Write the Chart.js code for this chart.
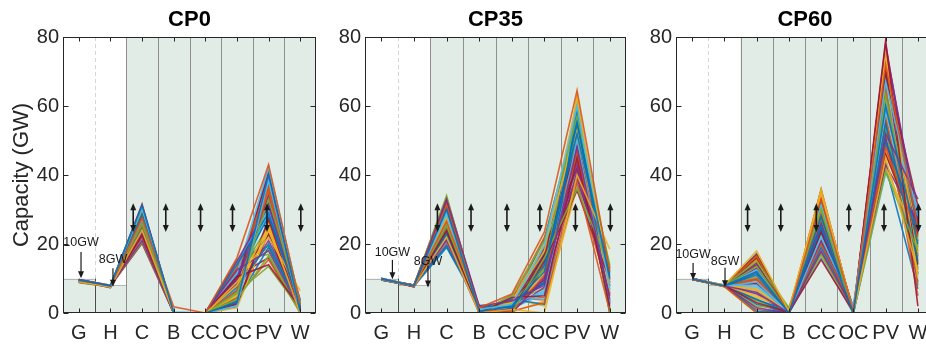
<!DOCTYPE html>
<html><head><meta charset="utf-8">
<script src="https://cdn.jsdelivr.net/npm/chart.js@4.4.0/dist/chart.umd.min.js"></script>
<style>
html,body{margin:0;padding:0;background:#fff;width:926px;height:344px;overflow:hidden;position:relative;}
canvas{position:absolute;top:0;}
</style></head><body>
<canvas id="c1"></canvas><canvas id="c2"></canvas><canvas id="c3"></canvas>
<script>
// ---------------- DATA ----------------
const categories = ['G','H','C','B','CC','OC','PV','W'];
const panelTitles = ['CP0','CP35','CP60'];
const yTickValues = [0,20,40,60,80];
const limitG = 10;   // GW, G region limit
const limitH = 8;    // GW, H region limit
const limitLabels = ['10GW','8GW'];

// CP0 : one value per scenario line, per category
const cp0_G = [9.6,9.5,9.0,9.7,9.4,9.6,9.5,9.6, 9.4,9.5,8.9,9.6,9.5,9.7,9.4,9.5, 9.6,9.3,8.8,9.5,9.6,9.4,9.5,9.7, 9.5,9.4,9.1,9.6,9.5,9.6,9.3,9.5, 9.7,9.5,8.9,9.4,9.6,9.5,9.6,9.4, 9.5,9.6,9.0,9.5,9.4,9.7,9.5,9.6];
const cp0_H = [7.9,7.8,7.6,7.9,7.8,8.0,7.9,7.8, 7.8,7.5,7.7,7.9,7.8,7.9,7.8,7.9, 8.0,7.4,7.6,7.8,7.9,7.8,7.9,8.0, 7.9,7.6,7.7,7.8,7.9,8.0,7.8,7.9, 7.8,7.3,7.6,7.9,7.8,7.9,8.0,7.8, 7.9,7.7,7.7,7.8,7.9,7.8,7.9,8.0];
const cp0_C = [31.2,27.5,24.0,21.0,26.0,30.5,22.5,28.8, 25.5,29.5,23.0,20.5,27.0,31.5,24.5,22.0, 29.0,26.5,25.0,21.5,28.0,30.0,23.5,26.8, 27.8,24.8,22.8,20.2,29.8,28.5,25.8,23.8, 30.8,26.2,24.2,21.8,27.2,29.2,22.2,25.2, 28.2,23.2,26.6,20.8,30.2,27.6,24.6,31.0];
const cp0_B = [0,1.8,0,0,0,0,0,0, 0,0,0,0,0.2,0,0,0, 0,0,0,0,0,0,0,0, 0,0,0.3,0,0,0,0,0, 0,0,0,0,0,0,0,0, 0,0.1,0,0,0,0,0,0];
const cp0_CC = [0,0,0,0,0,0,0,0, 0,0,0,0,0,0,0,0, 0,0,0,0,0,0,0,0, 0,0,0,0,0,0,0,0, 0,0,0,0,0,0,0,0, 0,0,0,0,0,0,0,0];
const cp0_OC = [3.0,16.0,8.0,12.5,5.5,2.0,10.5,14.0, 6.5,9.0,15.0,4.0,11.5,2.5,7.5,13.0, 1.5,10.0,6.0,14.8,8.5,3.5,12.0,5.0, 9.5,15.5,7.0,2.8,11.0,4.5,13.5,6.8, 3.8,8.8,10.8,1.8,12.8,5.8,9.8,14.4, 7.8,4.2,11.8,3.2,15.2,6.2,10.2,8.2];
const cp0_PV = [40.0,43.0,25.0,18.0,33.0,38.5,14.0,29.0, 35.5,22.0,31.0,16.5,42.0,27.0,20.0,37.0, 24.0,34.0,13.5,30.0,41.0,19.0,36.0,26.0, 32.0,17.0,39.0,23.0,28.0,15.5,35.0,21.0, 38.0,30.5,16.0,27.5,33.5,24.5,40.5,19.5, 29.5,36.5,22.5,34.5,18.5,31.5,25.5,42.5];
const cp0_W = [0.5,2.5,0.0,1.0,3.0,0.2,1.5,2.0, 0.0,6.5,1.2,0.8,2.8,0.3,1.8,0.0, 2.2,0.6,1.0,3.2,0.0,1.4,2.6,0.4, 1.6,0.0,2.0,0.9,3.5,0.1,1.1,2.4, 0.0,1.9,0.7,2.9,0.2,1.3,0.0,2.1, 0.5,3.8,1.7,0.0,2.3,0.8,1.0,2.7];

// CP35
const cp35_G = [9.9,9.8,9.7,10.0,9.8,10.1,9.9,9.7, 9.8,10.0,9.6,9.9,9.7,9.8,10.0,9.9, 9.7,9.9,9.8,10.0,9.9,9.6,9.8,10.1, 10.0,9.7,9.9,9.8,9.6,9.9,9.8,10.0, 9.8,9.9,9.7,10.1,9.9,9.8,9.7,9.9, 9.9,9.8,10.0,9.7,9.8,9.9,9.6,10.0];
const cp35_H = [7.9,8.0,7.8,7.7,8.0,7.9,7.6,8.1, 7.8,7.9,8.0,7.7,7.9,8.0,7.8,7.9, 8.0,7.7,7.9,7.8,8.1,7.9,7.8,7.6, 7.9,8.0,7.8,7.9,7.7,8.0,7.9,7.8, 7.8,7.9,8.0,7.7,7.9,7.8,8.0,7.9, 8.0,7.8,7.9,7.6,8.0,7.9,7.8,7.9];
const cp35_C = [30.0,26.5,22.0,33.0,34.0,28.5,24.0,19.5, 31.5,27.5,21.0,25.5,29.0,32.5,23.0,20.0, 28.0,30.5,24.5,26.0,33.5,22.5,27.0,31.0, 25.0,29.5,20.5,23.5,32.0,26.8,28.8,21.5, 30.8,24.8,27.8,19.0,29.8,22.8,31.8,25.8, 23.8,28.2,26.2,30.2,21.8,27.2,24.2,29.2];
const cp35_B = [0.5,1.5,0.0,2.0,0.3,1.0,0.0,2.2, 0.8,0.0,1.8,0.2,1.2,0.0,0.6,1.6, 0.0,0.4,2.1,0.0,1.4,0.9,0.0,0.3, 1.9,0.0,0.7,1.1,0.0,1.7,0.2,0.0, 1.3,0.5,0.0,2.0,0.1,0.8,1.5,0.0, 0.6,0.0,1.0,0.4,1.8,0.0,0.9,0.2];
const cp35_CC = [2.0,5.5,1.0,3.5,0.0,2.5,4.5,1.5, 0.5,3.0,0.0,5.0,2.2,1.2,4.0,0.0, 3.2,0.8,2.8,4.8,0.0,1.8,3.8,0.3, 2.6,5.2,1.4,0.0,3.4,2.0,4.2,0.6, 1.6,3.0,0.0,2.4,4.6,0.9,1.9,3.6, 0.0,2.9,1.1,4.4,0.4,2.3,3.3,1.3];
const cp35_OC = [12.0,23.5,0.0,8.0,16.0,19.5,5.0,14.0, 3.0,18.0,10.0,21.0,6.5,15.0,2.5,11.0, 20.0,7.5,13.0,4.0,17.0,9.0,22.0,3.5, 16.5,12.5,5.5,19.0,8.5,14.5,2.0,10.5, 18.5,6.0,13.5,21.5,4.5,11.5,15.5,7.0, 20.5,9.5,17.5,3.8,12.8,8.8,16.8,5.8];
const cp35_PV = [55.0,64.5,40.0,48.0,36.0,60.0,45.0,52.0, 38.0,62.0,43.0,57.0,50.0,35.5,58.5,46.5, 53.0,41.0,61.0,37.5,49.0,56.0,44.0,63.0, 39.5,51.0,59.0,42.0,54.0,47.0,36.5,60.5, 45.5,52.5,38.5,57.5,40.5,55.5,48.5,62.5, 43.5,50.5,58.0,37.0,53.5,46.0,41.5,59.5];
const cp35_W = [10.0,12.0,18.5,4.0,13.5,7.0,2.0,11.0, 0.5,8.5,5.0,14.0,3.0,9.5,1.0,12.5, 6.0,10.5,0.0,7.5,13.0,2.5,11.5,4.5, 9.0,0.0,12.8,5.5,8.0,1.5,10.8,3.5, 13.8,6.5,9.8,0.0,11.8,4.8,7.8,2.8, 12.2,0.8,8.8,5.8,10.2,3.2,6.8,13.2];

// CP60
const cp60_G = [9.9,9.8,9.9,10.0,9.8,9.9,9.7,9.9, 10.0,9.8,9.9,9.8,9.9,10.0,9.8,9.9, 9.9,9.7,9.8,9.9,10.0,9.8,9.9,9.8, 9.8,9.9,10.0,9.9,9.7,9.8,9.9,10.0, 9.9,9.8,9.9,9.8,9.9,9.7,10.0,9.9, 9.8,9.9,9.8,10.0,9.9,9.8,9.9,9.7];
const cp60_H = [7.9,7.7,8.0,7.8,7.9,7.6,8.0,7.8, 7.8,8.0,7.9,7.7,8.1,7.9,7.8,7.9, 8.0,7.8,7.7,7.9,7.8,8.0,7.6,7.9, 7.9,7.8,8.0,7.9,7.7,7.8,8.0,7.9, 7.8,7.9,7.7,8.0,7.9,7.8,7.9,8.1, 7.9,8.0,7.8,7.9,7.6,7.9,7.8,8.0];
const cp60_C = [12.0,0.0,18.0,6.0,15.0,9.0,3.0,11.0, 16.5,5.0,1.5,13.5,8.0,17.0,4.0,10.0, 7.0,14.0,2.0,12.5,16.0,0.5,9.5,6.5, 13.0,3.5,17.5,8.5,11.5,1.0,15.5,5.5, 10.5,7.5,14.5,2.5,12.8,4.5,9.8,16.8, 6.8,13.8,3.8,11.8,0.0,8.8,15.8,5.8];
const cp60_B = [0.0,0.0,0.5,0.0,1.5,0.0,0.2,0.0, 0.0,1.0,0.0,0.0,0.3,0.0,0.0,0.8, 0.0,0.0,1.2,0.0,0.0,0.4,0.0,0.0, 0.6,0.0,0.0,0.0,1.4,0.0,0.1,0.0, 0.0,0.7,0.0,0.0,0.0,1.1,0.0,0.2, 0.0,0.0,0.9,0.0,0.0,0.0,0.5,0.0];
const cp60_CC = [25.0,33.0,36.0,18.0,30.0,22.0,15.5,28.0, 20.0,34.5,26.0,17.0,31.5,23.5,19.0,29.0, 35.0,21.0,27.0,16.0,32.5,24.0,33.8,18.5, 26.5,30.5,22.5,35.5,20.5,28.5,16.5,24.5, 31.0,19.5,27.5,34.0,21.5,29.5,17.5,25.5, 32.0,23.0,30.0,20.2,26.8,35.8,18.8,28.8];
const cp60_OC = [0.0,0.5,0.0,1.0,0.0,2.0,0.3,0.0, 1.5,0.0,0.0,0.8,0.0,0.2,1.8,0.0, 0.0,0.6,0.0,0.0,1.2,0.0,0.4,0.0, 0.0,1.6,0.0,0.1,0.0,0.9,0.0,0.0, 0.7,0.0,1.3,0.0,0.0,0.3,0.0,1.9, 0.0,0.0,0.5,0.0,1.1,0.0,0.0,0.2];
const cp60_PV = [60.0,72.0,45.0,52.0,41.0,67.0,79.0,55.0, 48.0,75.0,43.0,63.0,58.0,70.0,50.0,65.0, 42.0,77.0,53.0,61.0,46.0,68.0,56.0,73.0, 49.0,64.0,40.5,71.0,54.0,59.0,47.0,76.0, 44.0,62.0,51.0,69.0,57.0,74.0,46.5,66.0, 52.5,78.0,42.5,60.5,48.5,70.5,55.5,64.5];
const cp60_W = [20.0,25.0,12.0,33.0,18.0,28.0,2.0,15.0, 22.0,10.0,26.0,19.0,30.0,14.0,24.0,8.0, 21.0,27.0,16.0,11.0,23.0,29.0,5.0,17.5, 25.5,13.0,20.5,31.0,9.0,22.5,18.5,26.5, 14.5,28.5,11.5,24.5,16.5,21.5,27.5,12.5, 19.5,23.5,7.0,25.8,15.5,20.8,17.0,22.8];

// ---------------- STYLE / LAYOUT ----------------
const lineColors = ['#0072BD','#D95319','#EDB120','#7E2F8E','#77AC30','#4DBEEE','#A2142F'];
const GREEN = 'rgb(225,236,230)';
const FONT = "'Liberation Sans', Arial, Helvetica, sans-serif";
const AX = '#262626';

const panelLayouts = [
  {id:'c1', left:0,   width:320, yAxisW:63, yTitle:'Capacity (GW)',
   ann:[{x:0.07, ty:20.3, y0:17.7, y1:10.1},{x:1.08, ty:15.4, y0:13.0, y1:7.6}]},
  {id:'c2', left:320, width:310, yAxisW:45, yTitle:'',
   ann:[{x:0.34, ty:17.4, y0:15.4, y1:9.8},{x:1.43, ty:15.0, y0:13.8, y1:7.4}]},
  {id:'c3', left:631, width:307, yAxisW:45, yTitle:'',
   ann:[{x:0.03, ty:16.8, y0:14.5, y1:9.6},{x:1.02, ty:14.8, y0:13.1, y1:7.5}]}
];
const rangeArrowX = [1.72, 2.75, 3.85, 4.86, 5.95, 7.02];
const rangeArrowY = [23.5, 31.8];

const panelData = [
  [cp0_G,cp0_H,cp0_C,cp0_B,cp0_CC,cp0_OC,cp0_PV,cp0_W],
  [cp35_G,cp35_H,cp35_C,cp35_B,cp35_CC,cp35_OC,cp35_PV,cp35_W],
  [cp60_G,cp60_H,cp60_C,cp60_B,cp60_CC,cp60_OC,cp60_PV,cp60_W]
];

function arrowHead(ctx, x, y, dir, w, h){ // dir: 1 = pointing down, -1 = up
  ctx.beginPath();
  ctx.moveTo(x, y);
  ctx.lineTo(x - w/2, y - dir*h);
  ctx.lineTo(x + w/2, y - dir*h);
  ctx.closePath();
  ctx.fill();
}

const decoPlugin = {
  id:'deco',
  beforeDatasetsDraw(chart){
    const {ctx, chartArea:a, scales:{x,y}} = chart;
    const px = v => x.getPixelForValue(v);
    const xGH = px(0.5), xHC = px(1.5);
    const yG = y.getPixelForValue(limitG), yH = y.getPixelForValue(limitH);
    ctx.save();
    ctx.fillStyle = GREEN;
    ctx.fillRect(xHC, a.top, a.right - xHC, a.bottom - a.top);
    ctx.fillRect(a.left, yG, xGH - a.left, a.bottom - yG);
    ctx.fillRect(xGH, yH, xHC - xGH, a.bottom - yH);
    ctx.strokeStyle = '#d4d4d4'; ctx.lineWidth = 1; ctx.setLineDash([4,3]);
    ctx.beginPath(); ctx.moveTo(Math.round(xGH)+0.5, a.top); ctx.lineTo(Math.round(xGH)+0.5, yG); ctx.stroke();
    ctx.setLineDash([]);
    ctx.strokeStyle = '#b5b5b5';
    ctx.beginPath(); ctx.moveTo(a.left, Math.round(yG)+0.5); ctx.lineTo(xGH, Math.round(yG)+0.5); ctx.stroke();
    ctx.beginPath(); ctx.moveTo(xGH, Math.round(yH)+0.5); ctx.lineTo(xHC, Math.round(yH)+0.5); ctx.stroke();
    ctx.strokeStyle = '#4a4a4a';
    ctx.beginPath(); ctx.moveTo(Math.round(xGH)+0.5, yG); ctx.lineTo(Math.round(xGH)+0.5, a.bottom); ctx.stroke();
    ctx.strokeStyle = '#8f8f8f';
    for (let b = 1.5; b < categories.length - 0.5; b += 1){
      const xx = Math.round(px(b)) + 0.5;
      ctx.beginPath(); ctx.moveTo(xx, a.top); ctx.lineTo(xx, a.bottom); ctx.stroke();
    }
    ctx.restore();
  },
  afterDatasetsDraw(chart){
    const {ctx, chartArea:a, scales:{x,y}} = chart;
    const lay = chart.options.plugins.deco;
    const px = v => x.getPixelForValue(v);
    ctx.save();
    ctx.strokeStyle = '#1a1a1a'; ctx.fillStyle = '#1a1a1a'; ctx.lineWidth = 1.6;
    const yTop = y.getPixelForValue(rangeArrowY[1]), yBot = y.getPixelForValue(rangeArrowY[0]);
    rangeArrowX.forEach(v => {
      const xx = px(v);
      ctx.beginPath(); ctx.moveTo(xx, yTop + 5); ctx.lineTo(xx, yBot - 5); ctx.stroke();
      arrowHead(ctx, xx, yTop, -1, 6, 7);
      arrowHead(ctx, xx, yBot, 1, 6, 7);
    });
    ctx.lineWidth = 1.2;
    ctx.font = '12.5px ' + FONT; ctx.textAlign = 'center'; ctx.textBaseline = 'middle';
    lay.ann.forEach((an, i) => {
      const xx = px(an.x);
      ctx.fillStyle = '#1a1a1a';
      ctx.fillText(limitLabels[i], xx, y.getPixelForValue(an.ty));
      const y0 = y.getPixelForValue(an.y0), y1 = y.getPixelForValue(an.y1);
      ctx.beginPath(); ctx.moveTo(xx, y0); ctx.lineTo(xx, y1 - 5); ctx.stroke();
      arrowHead(ctx, xx, y1, 1, 6, 7);
    });
    ctx.strokeStyle = AX; ctx.lineWidth = 1;
    const L = Math.round(a.left) + 0.5, R = Math.round(a.right) - 0.5;
    const T = Math.round(a.top) + 0.5, B = Math.round(a.bottom) - 0.5;
    ctx.strokeRect(L, T, R - L, B - T);
    ctx.beginPath();
    yTickValues.forEach(v => {
      const yy = Math.round(y.getPixelForValue(v)) + 0.5;
      ctx.moveTo(L, yy); ctx.lineTo(L + 5, yy);
      ctx.moveTo(R, yy); ctx.lineTo(R - 5, yy);
    });
    categories.forEach((c, i) => {
      const xx = Math.round(px(i)) + 0.5;
      ctx.moveTo(xx, B); ctx.lineTo(xx, B - 4);
      ctx.moveTo(xx, T); ctx.lineTo(xx, T + 4);
    });
    ctx.stroke();
    ctx.fillStyle = '#000';
    ctx.font = 'bold 22px ' + FONT; ctx.textAlign = 'center'; ctx.textBaseline = 'middle';
    ctx.fillText(lay.title, (a.left + a.right) / 2, 20);
    ctx.restore();
  }
};

panelLayouts.forEach((lay, p) => {
  const cv = document.getElementById(lay.id);
  cv.width = lay.width; cv.height = 344;
  cv.style.left = lay.left + 'px';
  cv.style.width = lay.width + 'px'; cv.style.height = '344px';
  const cols = panelData[p];
  const n = cols[0].length;
  const datasets = [];
  for (let i = 0; i < n; i++){
    datasets.push({
      data: cols.map(col => col[i]),
      borderColor: lineColors[i % lineColors.length] + 'E0',
      borderWidth: 1.6,
      pointRadius: 0,
      tension: 0,
      fill: false
    });
  }
  new Chart(cv, {
    type:'line',
    data:{ labels: categories, datasets },
    options:{
      responsive:false, animation:false, devicePixelRatio:1,
      layout:{ padding:{ top:37, right:4, bottom:0, left:0 } },
      plugins:{
        legend:{display:false}, tooltip:{enabled:false}, title:{display:false},
        deco:{ ann: lay.ann, title: panelTitles[p] }
      },
      scales:{
        x:{
          type:'category', offset:true,
          grid:{display:false, drawTicks:false}, border:{display:false},
          ticks:{ font:{size:20, family:FONT}, color:AX, padding:8, maxRotation:0, autoSkip:false },
          afterFit(s){ s.height = 31; }
        },
        y:{
          min:0, max:80,
          grid:{display:false, drawTicks:false}, border:{display:false},
          ticks:{ stepSize:20, font:{size:20, family:FONT}, color:AX, padding:4 },
          title:{ display: !!lay.yTitle, text: lay.yTitle, font:{size:22, family:FONT}, color:AX, padding:{top:9, bottom:0} },
          afterFit(s){ s.width = lay.yAxisW; }
        }
      }
    },
    plugins:[decoPlugin]
  });
});
</script>
</body></html>
